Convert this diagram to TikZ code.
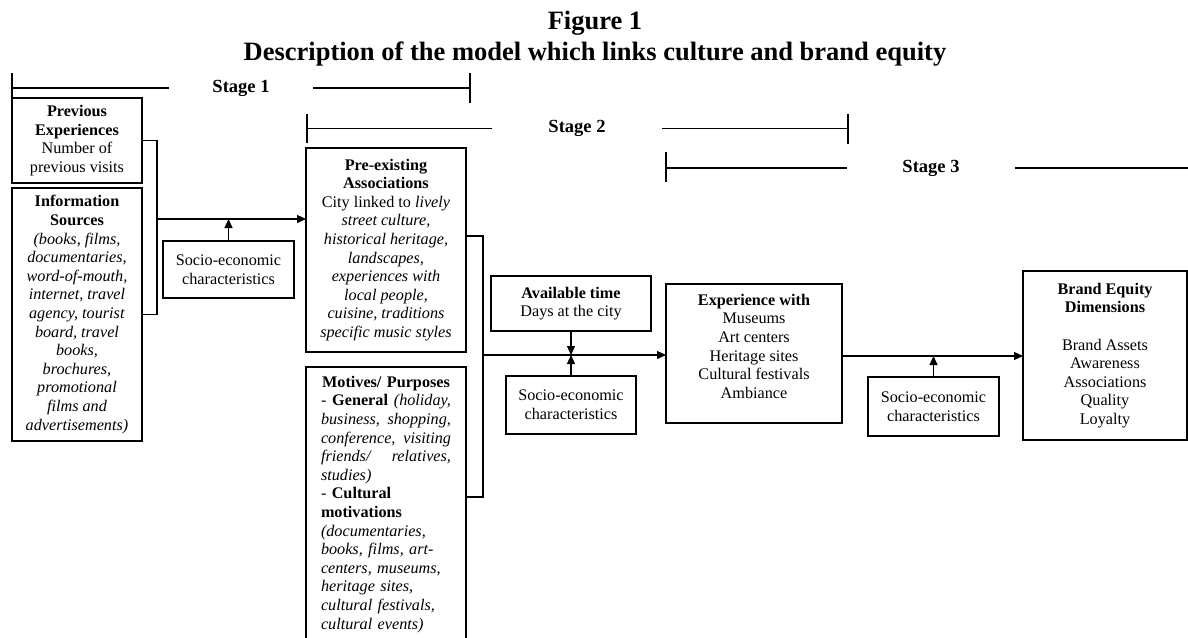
\documentclass[tikz,border=0pt]{standalone}
\usepackage{fontspec}
\setmainfont{Liberation Serif}
\usetikzlibrary{arrows.meta}
\newcommand\bodyfont{\fontsize{16.2}{18.6}\selectfont}
\tikzset{
  box/.style={draw, line width=1.1pt, inner sep=4pt, outer sep=0pt, align=center, font=\bodyfont, anchor=north west},
  stagelbl/.style={inner ysep=0pt, font=\fontsize{18.5}{20}\selectfont\bfseries},
  titlelbl/.style={inner sep=0pt, font=\fontsize{26.5}{30}\selectfont\bfseries},
  arr/.style={-{Triangle[length=9pt,width=8pt]}},
  conn/.style={line width=1.1pt}
}
\begin{document}
\begin{tikzpicture}[x=1pt,y=-1pt]
\useasboundingbox (0,0) rectangle (1188,637);
% titles
\node[titlelbl] (fig) at (595,23) {Figure 1};
\node[titlelbl] (desc) at (595,54) {Description of the model which links culture and brand equity};
% stages
\node[stagelbl, inner xsep=43.5pt] (st1) at (241,88) {Stage 1};
\node[stagelbl, inner xsep=56.5pt] (st2) at (577,128.5) {Stage 2};
\node[stagelbl, inner xsep=55pt] (st3) at (931,168) {Stage 3};
\coordinate (t1l) at (12,88); \coordinate (t1r) at (470,88);
\coordinate (t2l) at (307,128.5); \coordinate (t2r) at (848,128.5);
\coordinate (t3l) at (666,168); \coordinate (t3r) at (1188,168);
\draw[conn] (t1l) -- (st1.west); \draw[conn] (st1.east) -- (t1r);
\draw[conn] (t2l) -- (st2.west); \draw[conn] (st2.east) -- (t2r);
\draw[conn] (t3l) -- (st3.west); \draw[conn] (st3.east) -- (t3r);
\draw[conn] (12,73) -- (12,98);
\draw[conn] (470,73) -- (470,103);
\draw[conn] (307,114) -- (307,143);
\draw[conn] (848,114) -- (848,144);
\draw[conn] (666,152) -- (666,182);
% boxes
\node[box, minimum width=130pt, minimum height=85pt] (prev) at (12,98)
  {\textbf{Previous}\\\textbf{Experiences}\\Number of\\previous visits};
\node[box, minimum width=130pt, minimum height=253pt] (info) at (12,188)
  {\textbf{Information}\\\textbf{Sources}\\\textit{(books, films,}\\\textit{documentaries,}\\\textit{word-of-mouth,}\\\textit{internet, travel}\\\textit{agency, tourist}\\\textit{board, travel}\\\textit{books,}\\\textit{brochures,}\\\textit{promotional}\\\textit{films and}\\\textit{advertisements)}};
\node[box, minimum width=131pt, minimum height=57pt] (s1) at (163,241)
  {Socio-economic\\characteristics};
\node[box, minimum width=160pt, minimum height=204pt] (pre) at (306,148)
  {\textbf{Pre-existing}\\\textbf{Associations}\\City linked to \textit{lively}\\\textit{street culture,}\\\textit{historical heritage,}\\\textit{landscapes,}\\\textit{experiences with}\\\textit{local people,}\\\textit{cuisine, traditions}\\\textit{specific music styles}};
\node[box, text width=130pt, inner xsep=15pt, inner ysep=9pt, align=left] (mot) at (306,367)
  {\hfill\textbf{Motives/ Purposes}\hfill\mbox{}\\
   -\hfill\textbf{General}\hfill\textit{(holiday,}\\
   \textit{business,}\hfill\textit{shopping,}\\
   \textit{conference,}\hfill\textit{visiting}\\
   \textit{friends/}\hfill\textit{relatives,}\\
   \textit{studies)}\\
   - \textbf{Cultural}\\
   \textbf{motivations}\\
   \textit{(documentaries,}\\
   \textit{books, films, art-}\\
   \textit{centers, museums,}\\
   \textit{heritage sites,}\\
   \textit{cultural festivals,}\\
   \textit{cultural events)}};
\node[box, minimum width=160pt, minimum height=55pt] (avail) at (491,276)
  {\textbf{Available time}\\Days at the city};
\node[box, minimum width=130pt, minimum height=58pt] (s2) at (506,376)
  {Socio-economic\\characteristics};
\node[box, minimum width=176pt, minimum height=139pt] (exp) at (666,284)
  {\textbf{Experience with}\\Museums\\Art centers\\Heritage sites\\Cultural festivals\\Ambiance\\[-4pt]\mbox{}};
\node[box, minimum width=131pt, minimum height=59pt] (s3) at (868,377)
  {Socio-economic\\characteristics};
\node[box, minimum width=164pt, minimum height=169pt] (brand) at (1023,271)
  {\textbf{Brand Equity}\\\textbf{Dimensions}\\[18.6pt]Brand Assets\\Awareness\\Associations\\Quality\\Loyalty};
% connectors stage 1
\draw[conn] (prev.east) -- ++(15,0) |- (info.east);
\coordinate (j1) at (157,219);
\draw[conn, arr] (j1) -- (j1 -| pre.west);
\draw[conn, arr] (s1.north) -- (s1.north |- j1);
% connectors stage 2
\coordinate (b2t) at (483,236);
\coordinate (b2b) at (483,497);
\draw[conn] (b2t -| pre.east) -- (b2t) -- (b2b) -- (b2b -| mot.east);
\coordinate (j2) at (483,355);
\draw[conn, arr] (j2) -- (j2 -| exp.west);
\draw[conn, arr] (avail.south) -- (avail.south |- j2);
\draw[conn, arr] (s2.north) -- (s2.north |- j2);
% connectors stage 3
\coordinate (j3) at (842,356);
\draw[conn, arr] (j3 -| exp.east) -- (j3 -| brand.west);
\draw[conn, arr] (s3.north) -- (s3.north |- j3);
\end{tikzpicture}
\end{document}
